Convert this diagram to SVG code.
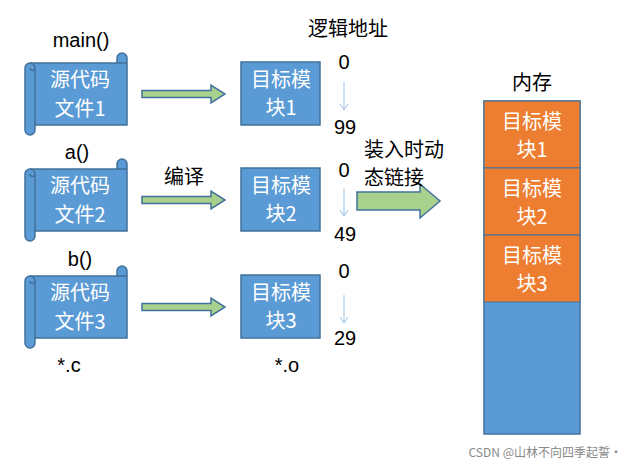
<svg xmlns="http://www.w3.org/2000/svg" width="637" height="469" viewBox="0 0 637 469">
<style>
.b{fill:#5B9BD5;stroke:#41719C;stroke-width:1.5}
.w{font-family:"Noto Sans CJK SC","Liberation Sans",sans-serif;font-size:20px;fill:#fff;text-anchor:middle}
.k{font-family:"Liberation Sans","Noto Sans CJK SC",sans-serif;font-size:20px;fill:#000;text-anchor:middle}
.c{font-family:"Noto Sans CJK SC",sans-serif}
.g{fill:#A9D18E;stroke:#41719C;stroke-width:1.5}
.o{fill:#ED7D31;stroke:#41719C;stroke-width:1}
</style>
<defs>
<g id="scroll">
<path class="b" d="M30,63 H117 V58 a5,5 0 0 1 10,0 V125 H35 V130 a5,5 0 0 1 -10,0 V68 a5,5 0 0 1 5,-5 Z"/>
<path d="M30,63 a5,5 0 0 1 5,5 a2.5,2.5 0 0 1 -5,0 M35,68 V125 M117,63 h10" fill="none" stroke="#41719C" stroke-width="1.5"/>
</g>
<path id="sa" class="g" d="M142,90.5 H211 V85 L225,94 L211,103 V97.5 H142 Z"/>
</defs>
<g id="src1"><use href="#scroll"/><text class="w" x="80" y="87">源代码</text><text class="w" x="80" y="116">文件1</text></g>
<g id="src2"><use href="#scroll" y="106"/><text class="w" x="80" y="193">源代码</text><text class="w" x="80" y="222">文件2</text></g>
<g id="src3"><use href="#scroll" y="213"/><text class="w" x="80" y="300">源代码</text><text class="w" x="80" y="329">文件3</text></g>
<g id="obj1"><rect class="b" x="241" y="62" width="79" height="63"/><text class="w" x="281" y="87">目标模</text><text class="w" x="281" y="115">块1</text></g>
<g id="obj2"><rect class="b" x="241" y="168" width="79" height="63"/><text class="w" x="281" y="193">目标模</text><text class="w" x="281" y="221">块2</text></g>
<g id="obj3"><rect class="b" x="241" y="275" width="79" height="63"/><text class="w" x="281" y="300">目标模</text><text class="w" x="281" y="328">块3</text></g>
<g id="mem">
<rect class="b" x="484" y="101" width="96" height="333"/>
<rect class="o" x="484" y="101" width="96" height="67"/>
<rect class="o" x="484" y="168" width="96" height="67"/>
<rect class="o" x="484" y="235" width="96" height="67"/>
<text class="w" x="532" y="129">目标模</text><text class="w" x="532" y="157">块1</text>
<text class="w" x="532" y="196">目标模</text><text class="w" x="532" y="224">块2</text>
<text class="w" x="532" y="263">目标模</text><text class="w" x="532" y="291">块3</text>
</g>
<g id="connectors">
<use href="#sa"/><use href="#sa" y="106"/><use href="#sa" y="213"/>
<path class="g" d="M357,192 H420 V184 L440,201 L420,218 V210 H357 Z"/>
<g stroke="#9DC3E6" stroke-width="1" fill="none">
<path d="M344,82 V110 M340,104 L344,110 L348,104"/>
<path d="M344,188 V216 M340,210 L344,216 L348,210"/>
<path d="M344,295 V323 M340,317 L344,323 L348,317"/>
</g>
</g>
<g>
<text class="k" x="81" y="47">main()</text>
<text class="k" x="77" y="159">a()</text>
<text class="k" x="80" y="266">b()</text>
<text class="k" x="69" y="372">*.c</text>
<text class="k" x="287" y="372">*.o</text>
<text class="k c" x="184" y="184">编译</text>
<text class="k c" x="348" y="36">逻辑地址</text>
<text class="k c" x="532" y="90">内存</text>
<text class="k c" x="404" y="157">装入时动</text>
<text class="k c" x="394" y="185">态链接</text>
<text class="k" x="344" y="69">0</text><text class="k" x="345" y="134">99</text>
<text class="k" x="344" y="177">0</text><text class="k" x="345" y="241">49</text>
<text class="k" x="344" y="278">0</text><text class="k" x="345" y="345">29</text>
</g>
<text x="622" y="457" style="font-family:'Noto Sans CJK SC',sans-serif;font-size:12px;fill:#888;text-anchor:end">CSDN @山林不向四季起誓·</text>
</svg>
